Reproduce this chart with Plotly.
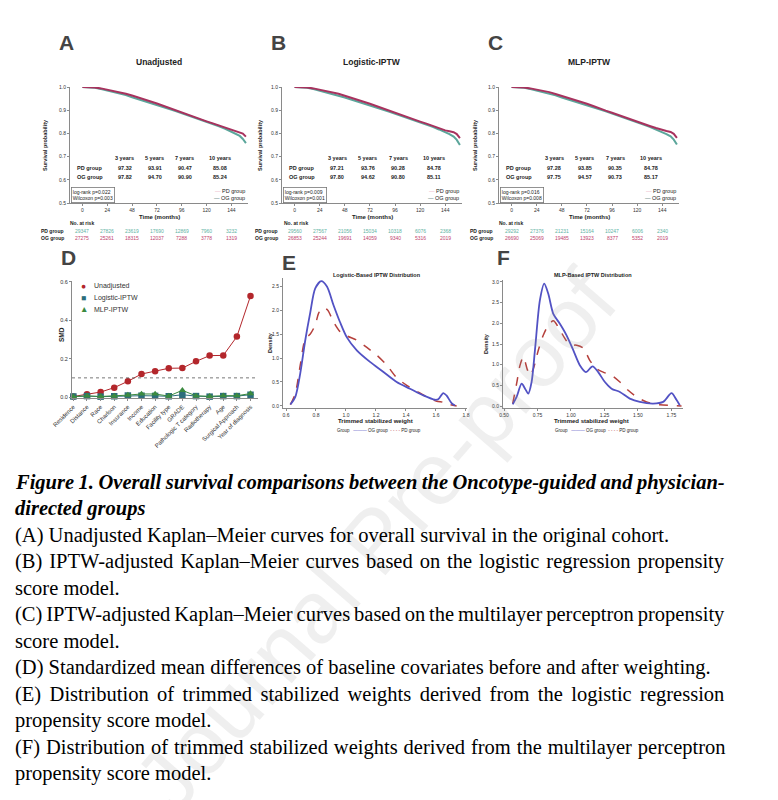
import plotly.graph_objects as go

W, H = 778, 800


def fx(p):
    return p / W


def fy(p):
    return 1 - p / H


SANS = "Liberation Sans"
SERIF = "Liberation Serif"
PD_COL = "#5ba69b"
OG_COL = "#a8325e"
PD_TXT = "#5fb3a4"
OG_TXT = "#c0436e"
AX = "#8a8a8a"

# ---- Kaplan-Meier data (A, B, C) ----
months = [0, 6, 12, 18, 24, 30, 36, 42, 48, 54, 60, 66, 72, 78, 84, 90, 96, 102,
          108, 114, 120, 126, 132, 138, 144, 148, 152, 155, 158]
a_pd = [1.000, 0.999, 0.997, 0.991, 0.985, 0.979, 0.973, 0.965, 0.956, 0.948, 0.939, 0.930,
        0.922, 0.913, 0.905, 0.896, 0.887, 0.878, 0.869, 0.860, 0.851, 0.841, 0.831, 0.820,
        0.808, 0.799, 0.789, 0.776, 0.758]
a_og = [1.000, 1.000, 0.998, 0.994, 0.989, 0.984, 0.978, 0.971, 0.963, 0.955, 0.947, 0.938,
        0.929, 0.919, 0.909, 0.900, 0.890, 0.881, 0.871, 0.862, 0.852, 0.843, 0.834, 0.824,
        0.815, 0.810, 0.806, 0.799, 0.786]
b_pd = [1.000, 0.999, 0.997, 0.991, 0.984, 0.978, 0.972, 0.964, 0.955, 0.946, 0.938, 0.929,
        0.920, 0.911, 0.903, 0.894, 0.885, 0.876, 0.866, 0.857, 0.848, 0.838, 0.828, 0.817,
        0.806, 0.797, 0.786, 0.772, 0.750]
b_og = [1.000, 1.000, 0.998, 0.994, 0.989, 0.984, 0.978, 0.971, 0.962, 0.954, 0.946, 0.937,
        0.928, 0.918, 0.908, 0.899, 0.889, 0.880, 0.870, 0.861, 0.851, 0.842, 0.832, 0.822,
        0.813, 0.809, 0.805, 0.797, 0.780]
c_pd = [1.000, 0.999, 0.997, 0.991, 0.984, 0.978, 0.973, 0.964, 0.955, 0.947, 0.939, 0.930,
        0.921, 0.912, 0.904, 0.895, 0.886, 0.876, 0.867, 0.857, 0.848, 0.838, 0.828, 0.817,
        0.806, 0.797, 0.787, 0.773, 0.752]
c_og = [1.000, 1.000, 0.998, 0.994, 0.989, 0.983, 0.978, 0.970, 0.962, 0.954, 0.946, 0.937,
        0.928, 0.918, 0.907, 0.898, 0.889, 0.879, 0.870, 0.861, 0.852, 0.842, 0.832, 0.823,
        0.814, 0.810, 0.806, 0.798, 0.781]

risk_months = [0, 24, 48, 72, 96, 120, 144]
a_risk_pd = [29347, 27826, 23619, 17690, 12869, 7960, 3232]
a_risk_og = [27275, 25261, 18315, 12037, 7288, 3778, 1319]
b_risk_pd = [29560, 27567, 21056, 15034, 10318, 6076, 2368]
b_risk_og = [26853, 25244, 19691, 14059, 9340, 5316, 2019]
c_risk_pd = [29292, 27376, 21231, 15164, 10247, 6006, 2340]
c_risk_og = [26690, 25069, 19485, 13923, 8377, 5352, 2019]

year_labels = ["3 years", "5 years", "7 years", "10 years"]
a_surv_pd = ["97.32", "93.91", "90.47", "85.08"]
a_surv_og = ["97.82", "94.70", "90.90", "85.24"]
b_surv_pd = ["97.21", "93.76", "90.28", "84.78"]
b_surv_og = ["97.80", "94.62", "90.80", "85.11"]
c_surv_pd = ["97.28", "93.85", "90.35", "84.78"]
c_surv_og = ["97.75", "94.57", "90.73", "85.17"]
logrank_p = ["0.022", "0.009", "0.016"]
wilcoxon_p = ["0.003", "0.001", "0.008"]

# ---- SMD data (D) ----
covariates = ["Residence", "Distance", "Race", "Charlson", "Insurance", "Income", "Education",
              "Facility type", "GRADE", "Pathologic T category", "Radiotherapy", "Age",
              "Surgical Approach", "Year of diagnosis"]
smd_unadj = [0.003, 0.014, 0.026, 0.049, 0.082, 0.120, 0.134, 0.150, 0.151, 0.186, 0.216,
             0.217, 0.315, 0.527]
smd_logit = [0.003, 0.005, 0.002, 0.004, 0.008, 0.007, 0.006, 0.004, 0.012, 0.005, 0.002,
             0.005, 0.005, 0.012]
smd_mlp = [0.002, 0.006, 0.003, 0.005, 0.010, 0.016, 0.016, 0.005, 0.035, 0.006, 0.004,
           0.007, 0.007, 0.018]

# ---- weight densities (E, F) ----
e_og_w = [0.629, 0.662, 0.695, 0.729, 0.762, 0.795, 0.835, 0.873, 0.917, 0.96, 1.006, 1.072,
          1.16, 1.25, 1.338, 1.427, 1.516, 1.593, 1.615, 1.649, 1.67, 1.704, 1.727]
e_og_d = [0.03, 0.19, 0.68, 1.38, 1.95, 2.45, 2.60, 2.49, 2.10, 1.75, 1.43, 1.16, 0.92, 0.71,
          0.50, 0.36, 0.22, 0.13, 0.14, 0.27, 0.22, 0.06, 0.01]
e_pd_w = [0.629, 0.662, 0.695, 0.729, 0.762, 0.795, 0.817, 0.844, 0.877, 0.917, 0.96, 1.006,
          1.072, 1.139, 1.205, 1.272, 1.338, 1.405, 1.471, 1.538, 1.605, 1.649, 1.693, 1.738]
e_pd_d = [0.03, 0.26, 0.85, 1.40, 1.50, 1.69, 1.93, 2.05, 2.00, 1.75, 1.55, 1.46, 1.37, 1.22,
          1.06, 0.85, 0.59, 0.43, 0.31, 0.19, 0.10, 0.08, 0.03, 0.0]
f_og_w = [0.565, 0.594, 0.632, 0.657, 0.681, 0.706, 0.731, 0.768, 0.80, 0.83, 0.868, 0.917,
          0.967, 1.017, 1.067, 1.111, 1.161, 1.203, 1.253, 1.303, 1.365, 1.439, 1.514, 1.613,
          1.688, 1.75, 1.787, 1.812]
f_og_d = [0.04, 0.22, 0.54, 0.42, 0.30, 0.58, 1.35, 2.56, 2.96, 2.72, 2.23, 1.99, 1.71, 1.35,
          0.98, 0.82, 0.96, 0.82, 0.58, 0.42, 0.34, 0.18, 0.10, 0.06, 0.10, 0.31, 0.15, 0.02]
f_pd_w = [0.565, 0.594, 0.619, 0.644, 0.674, 0.694, 0.719, 0.756, 0.793, 0.83, 0.868, 0.905,
          0.955, 0.992, 1.042, 1.092, 1.141, 1.191, 1.24, 1.303, 1.365, 1.427, 1.489, 1.564,
          1.663, 1.762, 1.825]
f_pd_d = [0.06, 0.54, 0.98, 1.19, 0.88, 0.74, 0.90, 1.35, 1.71, 1.95, 2.06, 1.91, 1.63, 1.48,
          1.47, 1.40, 1.10, 0.90, 0.82, 0.74, 0.58, 0.38, 0.22, 0.10, 0.03, 0.01, 0.0]

fig = go.Figure()
ann = []


def axis_style(**kw):
    base = dict(showline=True, linecolor=AX, linewidth=1, ticks="outside", ticklen=2,
                tickcolor=AX, showgrid=False, zeroline=False, automargin=False,
                tickfont=dict(family=SANS, size=5, color="#333"))
    base.update(kw)
    return base


def text(x, y, s, size=6, bold=False, color="#222", xref="paper", yref="paper",
         xanchor="center", yanchor="middle", angle=0, family=SANS, **kw):
    if bold:
        s = "<b>" + s + "</b>"
    ann.append(dict(x=x, y=y, text=s, xref=xref, yref=yref, xanchor=xanchor, yanchor=yanchor,
                    showarrow=False, textangle=angle,
                    font=dict(family=family, size=size, color=color), **kw))


# watermark first so everything sits over it
text(fx(375), fy(540), "Journal Pre-proof", size=88, color="rgba(150,150,150,0.15)", angle=-49)

km = [
    ("A", "Unadjusted", (70, 248), a_pd, a_og, a_risk_pd, a_risk_og, a_surv_pd, a_surv_og, 45, 66),
    ("B", "Logistic-IPTW", (282, 462), b_pd, b_og, b_risk_pd, b_risk_og, b_surv_pd, b_surv_og, 260, 280),
    ("C", "MLP-IPTW", (499, 679), c_pd, c_og, c_risk_pd, c_risk_og, c_surv_pd, c_surv_og, 475, 495),
]
layout_axes = {}
for i, (lab, title, (x0, x1), pd_s, og_s, r_pd, r_og, s_pd, s_og, ytx, rlx) in enumerate(km):
    n = "" if i == 0 else str(i + 1)
    xa, ya = "x" + n, "y" + n
    layout_axes["xaxis" + n] = axis_style(domain=[fx(x0), fx(x1)], range=[-12, 160],
                                          tickvals=risk_months, anchor=ya)
    layout_axes["yaxis" + n] = axis_style(domain=[fy(203), fy(87)], range=[0.5, 1.0],
                                          dtick=0.1, tickformat=".1f", anchor=xa)
    fig.add_trace(go.Scatter(x=months, y=pd_s, mode="lines", xaxis=xa, yaxis=ya,
                             line=dict(color=PD_COL, width=2), showlegend=False,
                             cliponaxis=False))
    fig.add_trace(go.Scatter(x=months, y=og_s, mode="lines", xaxis=xa, yaxis=ya,
                             line=dict(color=OG_COL, width=2), showlegend=False,
                             cliponaxis=False))

    text(fx(x0 - 4), fy(43), lab, size=21, bold=True, color="#444")
    text(fx((x0 + x1) / 2), fy(62), title, size=8.5, bold=True)
    text(fx(ytx), fy(145), "Survival probability", size=5.5, bold=True, angle=-90)
    text(fx((x0 + x1) / 2), fy(217), "Time (months)", size=6, bold=True)

    # survival table
    for hx, yl, v1, v2 in zip([41, 70, 99, 133], year_labels, s_pd, s_og):
        text(hx, 0.696, yl, size=5.5, bold=True, xref=xa, yref=ya)
        text(hx, 0.653, v1, size=5.5, bold=True, xref=xa, yref=ya)
        text(hx, 0.612, v2, size=5.5, bold=True, xref=xa, yref=ya)
    text(7, 0.653, "PD group", size=5.5, bold=True, xref=xa, yref=ya)
    text(7, 0.612, "OG group", size=5.5, bold=True, xref=xa, yref=ya)
    text(-11.5, 0.536, f"log-rank p={logrank_p[i]}<br>Wilcoxon p={wilcoxon_p[i]}", size=5,
         xref=xa, yref=ya, xanchor="left", align="left", bordercolor="#777", borderwidth=0.8,
         borderpad=1)
    text(159, 0.551, "<span style='color:#e9a9bd'>—</span> PD group", size=5.5,
         xref=xa, yref=ya, xanchor="right")
    text(159, 0.522, "<span style='color:#3f6f6a'>—</span> OG group", size=5.5,
         xref=xa, yref=ya, xanchor="right")

    # number at risk
    text(fx(rlx + 2), fy(223), "No. at risk", size=5, bold=True, xanchor="left")
    text(fx(rlx), fy(231), "PD group", size=5, bold=True, xanchor="right")
    text(fx(rlx), fy(237.5), "OG group", size=5, bold=True, xanchor="right")
    for m, v1, v2 in zip(risk_months, r_pd, r_og):
        text(m, fy(231), str(v1), size=5, color=PD_TXT, xref=xa)
        text(m, fy(237.5), str(v2), size=5, color=OG_TXT, xref=xa)

# ---- D ----
layout_axes["xaxis4"] = axis_style(domain=[fx(72), fx(258)], range=[-0.1, 13.55],
                                   tickvals=list(range(len(covariates))), ticktext=covariates,
                                   tickangle=-45, anchor="y4",
                                   tickfont=dict(family=SANS, size=6, color="#333"))
layout_axes["yaxis4"] = axis_style(domain=[fy(398), fy(281)], range=[-0.005, 0.605],
                                   tickvals=[0, 0.2, 0.4, 0.6], tickformat=".1f", anchor="x4",
                                   tickfont=dict(family=SANS, size=5.5, color="#333"))
idx = list(range(len(covariates)))
for vals, col, sym in [(smd_unadj, "#b3262b", "circle"), (smd_logit, "#2c6d7b", "square"),
                       (smd_mlp, "#3b8a3f", "triangle-up")]:
    fig.add_trace(go.Scatter(x=idx, y=vals, mode="lines+markers", xaxis="x4", yaxis="y4",
                             line=dict(color=col, width=1), showlegend=False, cliponaxis=False,
                             marker=dict(symbol=sym, size=6.5, color=col)))
fig.add_shape(type="line", xref="x4 domain", yref="y4", x0=0, x1=1, y0=0.1, y1=0.1,
              line=dict(color="#555", width=0.8, dash="dot"))
text(fx(68), fy(257), "D", size=21, bold=True, color="#444")
text(fx(62), fy(335), "SMD", size=6.5, bold=True, angle=-90)
for yy, sym, col, name in [(286, "●", "#b3262b", "Unadjusted"), (298, "■", "#2c6d7b", "Logistic-IPTW"),
                           (309, "▲", "#3b8a3f", "MLP-IPTW")]:
    text(fx(83.5), fy(yy), sym, size=8.5, color=col)
    text(fx(92), fy(yy), name, size=7, color="#333", xanchor="left")

# ---- E, F ----
layout_axes["xaxis5"] = axis_style(domain=[fx(283), fx(467)], range=[0.58, 1.807],
                                   tickvals=[0.6, 0.8, 1.0, 1.2, 1.4, 1.6, 1.8],
                                   tickformat=".1f", anchor="y5")
layout_axes["yaxis5"] = axis_style(domain=[fy(408), fy(278)], range=[-0.042, 2.667],
                                   tickvals=[0, 0.5, 1.0, 1.5, 2.0, 2.5], tickformat=".1f",
                                   anchor="x5")
layout_axes["xaxis6"] = axis_style(domain=[fx(503), fx(683)], range=[0.4925, 1.836],
                                   tickvals=[0.5, 0.75, 1.0, 1.25, 1.5, 1.75],
                                   tickformat=".2f", anchor="y6")
layout_axes["yaxis6"] = axis_style(domain=[fy(408), fy(280)], range=[-0.048, 3.048],
                                   tickvals=[0, 0.5, 1.0, 1.5, 2.0, 2.5, 3.0], tickformat=".1f",
                                   anchor="x6")
for n, ogw, ogd, pdw, pdd in [("5", e_og_w, e_og_d, e_pd_w, e_pd_d),
                              ("6", f_og_w, f_og_d, f_pd_w, f_pd_d)]:
    fig.add_trace(go.Scatter(x=pdw, y=pdd, mode="lines", xaxis="x" + n, yaxis="y" + n,
                             line=dict(color="#b5403c", width=1.5, dash="dash", shape="spline",
                                       smoothing=0.8), showlegend=False))
    fig.add_trace(go.Scatter(x=ogw, y=ogd, mode="lines", xaxis="x" + n, yaxis="y" + n,
                             line=dict(color="#5252c4", width=1.8, shape="spline",
                                       smoothing=0.8), showlegend=False))

for lab, lx, ly, title, cx, ytx, gx in [
        ("E", 289, 262, "Logistic-Based IPTW Distribution", 377, 270, 335),
        ("F", 503, 257, "MLP-Based IPTW Distribution", 593, 486, 553)]:
    text(fx(lx), fy(ly), lab, size=21, bold=True, color="#444")
    text(fx(cx), fy(275), title, size=5.5, bold=True)
    text(fx(ytx), fy(343), "Density", size=5.5, bold=True, angle=-90)
    text(fx(cx - 2), fy(421), "Trimmed stabilized weight", size=6, bold=True)
    text(fx(gx), fy(430), "Group   <span style='color:#5252c4'>———</span> OG group  "
         "<span style='color:#b5403c'>- - - -</span> PD group", size=4.5, xanchor="left")

# ---- caption (second value = word spacing used to justify the line) ----
caption = [
    ("<b><i>Figure 1. Overall survival comparisons between the Oncotype-guided and physician-</i></b>", -0.6),
    ("<b><i>directed groups</i></b>", 0),
    ("(A) Unadjusted Kaplan–Meier curves for overall survival in the original cohort.", 0),
    ("(B) IPTW-adjusted Kaplan–Meier curves based on the logistic regression propensity", 1.8),
    ("score model.", 0),
    ("(C) IPTW-adjusted Kaplan–Meier curves based on the multilayer perceptron propensity", -1.2),
    ("score model.", 0),
    ("(D) Standardized mean differences of baseline covariates before and after weighting.", 0),
    ("(E) Distribution of trimmed stabilized weights derived from the logistic regression", 3.3),
    ("propensity score model.", 0),
    ("(F) Distribution of trimmed stabilized weights derived from the multilayer perceptron", 0.8),
    ("propensity score model.", 0),
]
cap_y = [482, 508, 535, 561, 588, 614, 641, 667, 694, 720, 747, 773]
for (s, ws), yy in zip(caption, cap_y):
    if ws:
        s = f"<span style='word-spacing:{ws}px'>{s}</span>"
    text(fx(13), fy(yy), s, size=20.5, color="#000", xanchor="left", family=SERIF)

fig.update_layout(
    width=W, height=H, margin=dict(l=0, r=0, t=0, b=0),
    paper_bgcolor="white", plot_bgcolor="white",
    annotations=ann, showlegend=False,
    **layout_axes,
)
# drop the default page margin so the figure sits at the window's corner
fig.write_html("out.html", config={"displayModeBar": False},
               post_script="document.body.style.margin = '0px';")
